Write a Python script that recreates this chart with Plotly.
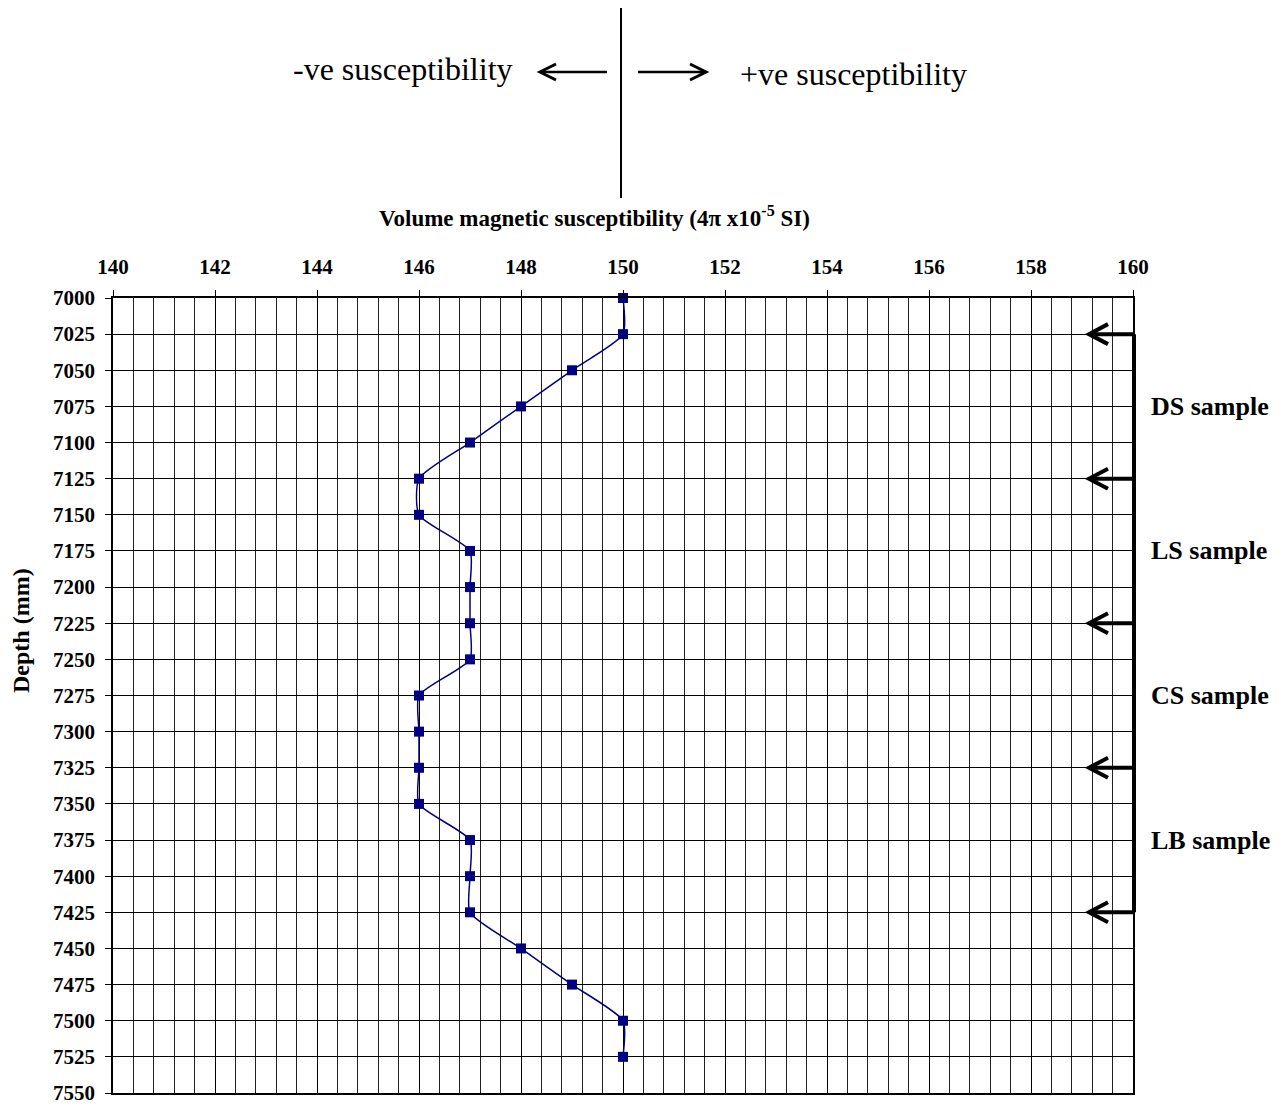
import plotly.graph_objects as go

# Core measurements: depth down the core (mm) and volume susceptibility
depth_mm = [7000, 7025, 7050, 7075, 7100, 7125, 7150, 7175, 7200, 7225, 7250,
            7275, 7300, 7325, 7350, 7375, 7400, 7425, 7450, 7475, 7500, 7525]
susceptibility = [150, 150, 149, 148, 147, 146, 146, 147, 147, 147, 147,
                  146, 146, 146, 146, 147, 147, 147, 148, 149, 150, 150]

# Sample intervals marked on the right-hand side
sample_bounds = [7025, 7125, 7225, 7325, 7425]
sample_names = ["DS sample", "LS sample", "CS sample", "LB sample"]

x_ticks = [140, 142, 144, 146, 148, 150, 152, 154, 156, 158, 160]
y_ticks = list(range(7000, 7551, 25))

SERIF = "Liberation Serif, Times New Roman, serif"
NAVY = "#000080"

# plot area in pixels (used for paper-space decorations outside the axes)
W, H = 1287, 1106
L, R, T, B = 113, 154, 298, 13
pw = W - L - R
ph = H - T - B


def px_x(px):
    return (px - L) / pw


def px_y(py):
    return (H - B - py) / ph


fig = go.Figure()
fig.add_trace(go.Scatter(
    x=susceptibility, y=depth_mm, mode="lines+markers",
    line=dict(color=NAVY, width=1.5, shape="spline", smoothing=0.6),
    marker=dict(symbol="square", size=10, color=NAVY),
    showlegend=False, cliponaxis=False,
))

shapes = []
annotations = []

# bracket with left-pointing arrows marking sample boundaries
bx = px_x(1134)
tip = px_x(1089)
arm_x = px_x(1108)
arm_dy = 10 / (ph / 550)
shapes.append(dict(type="line", xref="paper", yref="y", x0=bx, x1=bx,
                   y0=sample_bounds[0], y1=sample_bounds[-1],
                   line=dict(color="black", width=4)))
for d in sample_bounds:
    shapes.append(dict(type="line", xref="paper", yref="y", x0=bx, x1=tip + 0.002,
                       y0=d, y1=d, line=dict(color="black", width=4)))
    shapes.append(dict(type="path", xref="paper", yref="y",
                       path=f"M {arm_x},{d - arm_dy} L {tip},{d} L {arm_x},{d + arm_dy}",
                       line=dict(color="black", width=4)))
for name, a, b in zip(sample_names, sample_bounds[:-1], sample_bounds[1:]):
    annotations.append(dict(text=f"<b>{name}</b>", xref="paper", yref="y",
                            x=px_x(1149), y=(a + b) / 2, xanchor="left",
                            yanchor="middle", showarrow=False,
                            font=dict(family=SERIF, size=26, color="black")))

# direction indicator above the chart
shapes.append(dict(type="line", xref="paper", yref="paper",
                   x0=px_x(621), x1=px_x(621), y0=px_y(8), y1=px_y(198),
                   line=dict(color="black", width=2)))
ay = px_y(72)
ady = 8 / ph
shapes.append(dict(type="line", xref="paper", yref="paper",
                   x0=px_x(607), x1=px_x(541), y0=ay, y1=ay,
                   line=dict(color="black", width=2.5)))
shapes.append(dict(type="path", xref="paper", yref="paper",
                   path=f"M {px_x(556)},{ay + ady} L {px_x(540)},{ay} L {px_x(556)},{ay - ady}",
                   line=dict(color="black", width=3)))
shapes.append(dict(type="line", xref="paper", yref="paper",
                   x0=px_x(638), x1=px_x(705), y0=ay, y1=ay,
                   line=dict(color="black", width=2.5)))
shapes.append(dict(type="path", xref="paper", yref="paper",
                   path=f"M {px_x(690)},{ay + ady} L {px_x(706)},{ay} L {px_x(690)},{ay - ady}",
                   line=dict(color="black", width=3)))
annotations.append(dict(text="-ve susceptibility", xref="paper", yref="paper",
                        x=px_x(515), y=px_y(69), xanchor="right", yanchor="middle",
                        showarrow=False, font=dict(family=SERIF, size=32, color="black")))
annotations.append(dict(text="+ve susceptibility", xref="paper", yref="paper",
                        x=px_x(738), y=px_y(74), xanchor="left", yanchor="middle",
                        showarrow=False, font=dict(family=SERIF, size=32, color="black")))

# axis titles
annotations.append(dict(text="<b>Volume magnetic susceptibility (4π x10<sup>-5</sup> SI)</b>",
                        xref="paper", yref="paper", x=px_x(594), y=px_y(216),
                        xanchor="center", yanchor="middle", showarrow=False,
                        font=dict(family=SERIF, size=23, color="black")))
annotations.append(dict(text="<b>Depth (mm)</b>", xref="paper", yref="paper",
                        x=px_x(21), y=px_y(631), xanchor="center", yanchor="middle",
                        textangle=-90, showarrow=False,
                        font=dict(family=SERIF, size=24, color="black")))

fig.update_layout(
    width=W, height=H,
    margin=dict(l=L, r=R, t=T, b=B, autoexpand=False),
    paper_bgcolor="white", plot_bgcolor="white",
    shapes=shapes, annotations=annotations,
    xaxis=dict(
        range=[140, 160], side="top", tickvals=x_ticks, automargin=False,
        ticks="outside", ticklen=6, tickcolor="black", ticklabelstandoff=8,
        showgrid=True, gridcolor="black", gridwidth=1,
        minor=dict(dtick=0.4, tick0=140, showgrid=True, gridcolor="#222", gridwidth=1),
        showline=True, linecolor="black", linewidth=1.5, mirror=True,
        zeroline=False,
        tickfont=dict(family=SERIF, size=21, color="black", weight="bold"),
    ),
    yaxis=dict(
        range=[7550, 7000], tickvals=y_ticks, automargin=False,
        ticks="outside", ticklen=6, tickcolor="black", ticklabelstandoff=6,
        showgrid=True, gridcolor="black", gridwidth=1,
        showline=True, linecolor="black", linewidth=1.5, mirror=True,
        zeroline=False,
        tickfont=dict(family=SERIF, size=21, color="black", weight="bold"),
    ),
)

fig.write_html("out.html")
